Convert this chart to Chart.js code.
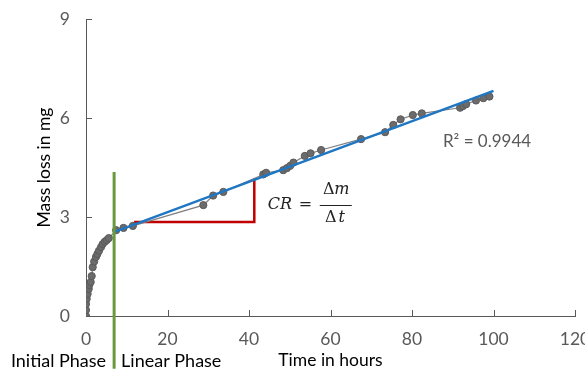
<!DOCTYPE html>
<html>
<head>
<meta charset="utf-8">
<script src="https://cdn.jsdelivr.net/npm/chart.js@4.4.1/dist/chart.umd.min.js"></script>
<style>
  html, body { margin: 0; padding: 0; background: #fff; }
  #wrap { width: 585px; height: 371px; }
</style>
</head>
<body>
<div id="wrap"><canvas id="chart"></canvas></div>
<script>
// measured points (hours, mg)
const timeHours = [0, 0, 0, 0.17, 0.4, 0.66, 0.8, 1.15, 1.4, 1.65, 2.0, 2.45, 2.8, 3.2, 3.7, 4.1, 4.6, 5.1, 5.6,
    7.4, 9.2, 11.5, 28.8, 31.2, 33.7, 43.5, 44.2, 48.4, 49.3, 50.1, 50.9, 53.7, 55.1, 57.7, 67.5,
    73.4, 75.4, 77.2, 80.2, 82.4, 91.8, 92.5, 93.3, 95.7, 97.5, 99.0];
const massLoss = [0, 0.18, 0.36, 0.52, 0.67, 0.82, 0.94, 1.03, 1.21, 1.48, 1.65, 1.79, 1.88, 1.98, 2.09, 2.18, 2.25, 2.30, 2.36,
    2.6, 2.67, 2.73, 3.36, 3.65, 3.76, 4.29, 4.34, 4.42, 4.48, 4.55, 4.65, 4.85, 4.93, 5.03, 5.36,
    5.57, 5.79, 5.96, 6.09, 6.14, 6.31, 6.36, 6.42, 6.53, 6.6, 6.65];

// linear fit
const fitX = [7, 100];
const fitY = [2.55, 6.82];

// slope triangle
const triX = [11.8, 41.3, 41.3];
const triY = [2.85, 2.85, 4.18];

// phase separator
const phaseX = [6.9, 6.9];
const phaseY = [4.36, -1.6];

const xTicks = [0, 20, 40, 60, 80, 100, 120];
const yTicks = [0, 3, 6, 9];

const toPts = (xs, ys) => xs.map((x, i) => ({ x: x, y: ys[i] }));

const FONT = "Lato, 'Open Sans', sans-serif";
const GREY_TXT = '#595959';

const extras = {
    id: 'extras',
    afterDraw(chart) {
        const ctx = chart.ctx;
        const xs = chart.scales.x, ys = chart.scales.y;
        const ca = chart.chartArea;
        ctx.save();
        // inner tick marks
        ctx.strokeStyle = '#595959';
        ctx.lineWidth = 1;
        ctx.beginPath();
        xTicks.forEach(v => {
            if (v === 0) return;
            const px = Math.round(xs.getPixelForValue(v)) + 0.5;
            ctx.moveTo(px, ca.bottom);
            ctx.lineTo(px, ca.bottom - 6);
        });
        yTicks.forEach(v => {
            if (v === 0) return;
            const py = Math.round(ys.getPixelForValue(v)) + 0.5;
            ctx.moveTo(ca.left, py);
            ctx.lineTo(ca.left + 6, py);
        });
        ctx.stroke();

        // R squared
        ctx.fillStyle = GREY_TXT;
        ctx.font = '17px ' + FONT;
        ctx.textBaseline = 'middle';
        ctx.textAlign = 'left';
        ctx.fillText('R² = 0.9944', xs.getPixelForValue(87.6), ys.getPixelForValue(5.3));

        // CR = dm/dt
        const cx = xs.getPixelForValue(44.6);
        const cy = ys.getPixelForValue(3.36);
        ctx.fillStyle = '#222';
        ctx.font = 'italic 16px "DejaVu Serif", serif';
        ctx.fillText('CR', cx, cy);
        ctx.font = '16px "DejaVu Serif", serif';
        ctx.fillText('=', cx + 31, cy);
        const fx = cx + 52, fw = 32;
        ctx.textAlign = 'center';
        ctx.fillText('Δ', fx + fw / 2 - 7, cy - 15);
        ctx.font = 'italic 16px "DejaVu Serif", serif';
        ctx.fillText('m', fx + fw / 2 + 6, cy - 15);
        ctx.font = '16px "DejaVu Serif", serif';
        ctx.fillText('Δ', fx + fw / 2 - 5, cy + 13);
        ctx.font = 'italic 16px "DejaVu Serif", serif';
        ctx.fillText('t', fx + fw / 2 + 6, cy + 13);
        ctx.strokeStyle = '#222';
        ctx.beginPath();
        ctx.moveTo(fx, Math.round(cy) + 0.5);
        ctx.lineTo(fx + fw, Math.round(cy) + 0.5);
        ctx.stroke();

        // phase labels
        const gx = xs.getPixelForValue(phaseX[0]);
        ctx.fillStyle = '#000';
        ctx.font = '18px ' + FONT;
        ctx.textAlign = 'right';
        ctx.fillText('Initial Phase', gx - 8, 361);
        ctx.textAlign = 'left';
        ctx.fillText('Linear Phase', gx + 7, 361);
        ctx.restore();
    }
};

new Chart(document.getElementById('chart'), {
    type: 'scatter',
    data: {
        datasets: [
            {
                label: 'Fit',
                data: toPts(fitX, fitY),
                showLine: true,
                borderColor: '#1F77C4',
                borderWidth: 2.5,
                pointRadius: 0,
                order: 1
            },
            {
                label: 'Mass loss',
                data: toPts(timeHours, massLoss),
                showLine: true,
                borderColor: '#7F7F7F',
                borderWidth: 1.2,
                pointRadius: 3.6,
                pointBackgroundColor: '#6b6b6b',
                pointBorderColor: '#5a5a5a',
                pointBorderWidth: 1,
                order: 2
            },
            {
                label: 'Triangle',
                data: toPts(triX, triY),
                showLine: true,
                borderColor: '#C00000',
                borderWidth: 2.5,
                pointRadius: 0,
                order: 3
            },
            {
                label: 'Phase',
                data: toPts(phaseX, phaseY),
                showLine: true,
                borderColor: '#6A9A3E',
                borderWidth: 3,
                pointRadius: 0,
                clip: false,
                order: 0
            }
        ]
    },
    options: {
        responsive: true,
        maintainAspectRatio: false,
        animation: false,
        layout: { padding: { top: 19, right: 10, left: 34, bottom: 0 } },
        plugins: {
            legend: { display: false },
            tooltip: { enabled: false }
        },
        scales: {
            x: {
                type: 'linear',
                min: 0,
                max: 120,
                afterBuildTicks: s => { s.ticks = xTicks.map(v => ({ value: v })); },
                afterFit: s => { s.height = 55; s.paddingRight = 0; s.paddingLeft = 0; },
                grid: { display: false, drawTicks: false },
                border: { display: true, color: '#595959', width: 1 },
                ticks: { color: GREY_TXT, font: { family: FONT, size: 17.5 }, padding: 13, maxRotation: 0 },
                title: {
                    display: true,
                    text: 'Time in hours',
                    color: '#000',
                    font: { family: FONT, size: 17.5 },
                    padding: { top: 0, bottom: 0 }
                }
            },
            y: {
                type: 'linear',
                min: 0,
                max: 9,
                afterBuildTicks: s => { s.ticks = yTicks.map(v => ({ value: v })); },
                afterFit: s => { s.width = 52; s.paddingTop = 0; s.paddingBottom = 0; },
                grid: { display: false, drawTicks: false },
                border: { display: true, color: '#595959', width: 1 },
                ticks: { color: GREY_TXT, font: { family: FONT, size: 17.5 }, padding: 16 },
                title: {
                    display: true,
                    text: 'Mass loss in mg',
                    color: '#000',
                    font: { family: FONT, size: 17.5 },
                    padding: { top: 0, bottom: 0 }
                }
            }
        }
    },
    plugins: [extras]
});
</script>
</body>
</html>
